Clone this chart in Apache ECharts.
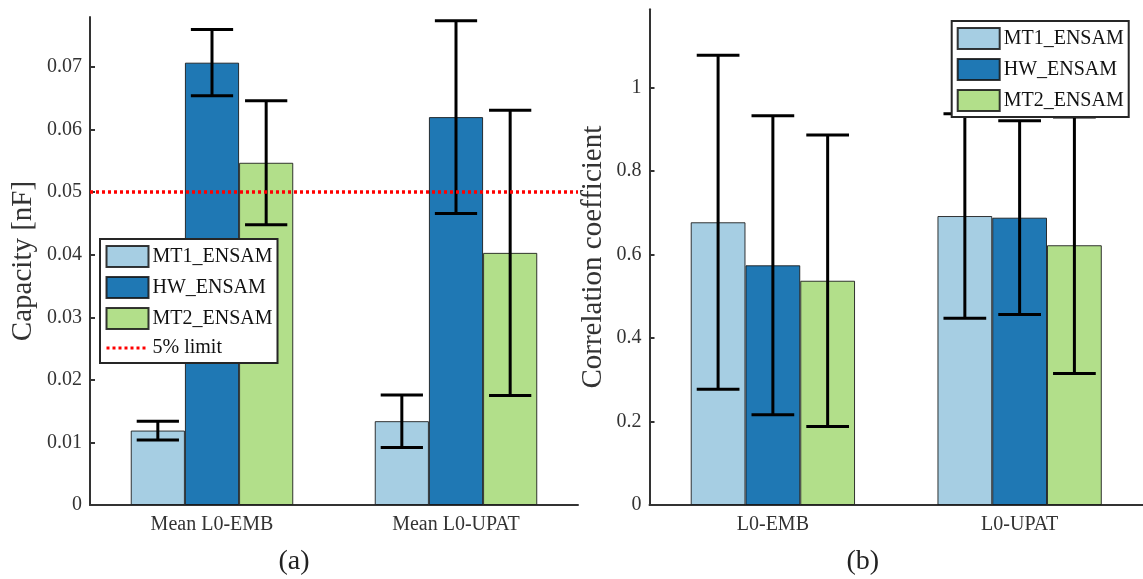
<!DOCTYPE html>
<html>
<head>
<meta charset="utf-8">
<script src="https://cdn.jsdelivr.net/npm/echarts@6/dist/echarts.min.js"></script>
<style>
  html, body { margin: 0; padding: 0; background: #fff; }
  #chart { width: 1143px; height: 579px; }
</style>
</head>
<body>
<div id="chart"></div>
<script>
// ---- data: (a) capacity, (b) correlation coefficient ----
const seriesNames = ['MT1_ENSAM', 'HW_ENSAM', 'MT2_ENSAM'];
const limitName = '5% limit';
const limitValue = 0.05;

const capCategories = ['Mean L0-EMB', 'Mean L0-UPAT'];
const capMT1 = [0.0119, 0.0134];
const capMT1Err = [0.0015, 0.0042];
const capHW = [0.0707, 0.0620];
const capHWErr = [0.0053, 0.0154];
const capMT2 = [0.0547, 0.0403];
const capMT2Err = [0.0099, 0.0228];
const capTicks = [0, 0.01, 0.02, 0.03, 0.04, 0.05, 0.06, 0.07];

const corrCategories = ['L0-EMB', 'L0-UPAT'];
const corrMT1 = [0.677, 0.692];
const corrMT1Err = [0.400, 0.245];
const corrHW = [0.574, 0.688];
const corrHWErr = [0.358, 0.232];
const corrMT2 = [0.537, 0.622];
const corrMT2Err = [0.349, 0.307];
const corrTicks = [0, 0.2, 0.4, 0.6, 0.8, 1];

// ---- styling ----
const colors = ['#a6cee3', '#1f78b4', '#b2df8a'];
const FONT = 'Liberation Serif';
const AXIS_COLOR = '#333333';
const BAR_FRACTION = 0.222;   // width of one bar as a share of the category band

const chart = echarts.init(document.getElementById('chart'), null, { renderer: 'canvas' });

function makeXAxis(gridIndex, cats) {
  return {
    type: 'category', gridIndex, data: cats,
    axisLine: { lineStyle: { color: AXIS_COLOR, width: 2 } },
    axisTick: { alignWithLabel: true, inside: true, length: 6, lineStyle: { color: AXIS_COLOR, width: 2 } },
    axisLabel: { fontFamily: FONT, fontSize: 20, color: '#333', margin: 10 },
    splitLine: { show: false }
  };
}

function makeYAxis(gridIndex, max, ticks, name, nameGap) {
  return {
    type: 'value', gridIndex, min: 0, max,
    name, nameLocation: 'middle', nameGap,
    nameTextStyle: { fontFamily: FONT, fontSize: 29, color: '#333' },
    axisLine: { show: true, lineStyle: { color: AXIS_COLOR, width: 2 } },
    axisTick: { show: true, inside: true, length: 5, customValues: ticks, lineStyle: { color: AXIS_COLOR, width: 2 } },
    axisLabel: { customValues: ticks, fontFamily: FONT, fontSize: 20, color: '#333', margin: 8 },
    splitLine: { show: false }
  };
}

function barSeries(idx, name, values) {
  return {
    type: 'bar', name, xAxisIndex: idx, yAxisIndex: idx,
    data: values, barWidth: (BAR_FRACTION * 100) + '%', barGap: '0%',
    itemStyle: { color: colors[seriesNames.indexOf(name)], borderColor: 'rgba(20,20,20,0.85)', borderWidth: 1 },
    emphasis: { disabled: true },
    z: 2
  };
}

function errorBarRender(params, api) {
  const cat = api.value(0), k = api.value(1), mean = api.value(2), err = api.value(3);
  const bw = api.size([1, 0])[0] * BAR_FRACTION;
  const x = api.coord([cat, mean])[0] + (k - 1) * bw;
  const yTop = api.coord([cat, mean + err])[1];
  const yBot = api.coord([cat, mean - err])[1];
  const half = bw * 0.39;
  const style = { stroke: '#000', lineWidth: 3, fill: null };
  return {
    type: 'group',
    children: [
      { type: 'line', shape: { x1: x, y1: yTop, x2: x, y2: yBot }, style },
      { type: 'line', shape: { x1: x - half, y1: yTop, x2: x + half, y2: yTop }, style },
      { type: 'line', shape: { x1: x - half, y1: yBot, x2: x + half, y2: yBot }, style }
    ]
  };
}

function errorSeries(idx, groups) {
  const data = [];
  groups.forEach(([means, errs], k) => {
    means.forEach((m, c) => data.push([c, k, m, errs[c]]));
  });
  return {
    type: 'custom', xAxisIndex: idx, yAxisIndex: idx,
    renderItem: errorBarRender, data,
    encode: { x: 0, y: 2 }, z: 3, silent: true
  };
}

function legendBox(left, top, withLimit) {
  const items = seriesNames.map(n => ({ name: n, icon: 'rect' }));
  if (withLimit) {
    items.push({
      name: limitName,
      itemStyle: { color: 'rgba(0,0,0,0)', borderWidth: 0, opacity: 0 },
      lineStyle: { color: '#ff0000', width: 3, type: [3, 3] }
    });
  }
  return {
    orient: 'vertical', left, top,
    data: items,
    itemWidth: 42, itemHeight: 21, itemGap: 8,
    padding: [6, 5, 5, 5],
    borderColor: '#262626', borderWidth: 2, backgroundColor: '#fff',
    textStyle: { fontFamily: FONT, fontSize: 20, color: '#111', padding: [0, 0, 0, -1] },
    selectedMode: false
  };
}

const option = {
  animation: false,
  backgroundColor: '#fff',
  grid: [
    { left: 90, top: 17, width: 488, height: 488 },
    { left: 649.5, top: 9.3, width: 495, height: 495.7 }
  ],
  xAxis: [makeXAxis(0, capCategories), makeXAxis(1, corrCategories)],
  yAxis: [
    makeYAxis(0, 0.078, capTicks, 'Capacity [nF]', 52),
    makeYAxis(1, 1.187, corrTicks, 'Correlation coefficient', 42)
  ],
  legend: [legendBox(100, 239, true), legendBox(951.7, 21, false)],
  series: [
    barSeries(0, seriesNames[0], capMT1),
    barSeries(0, seriesNames[1], capHW),
    barSeries(0, seriesNames[2], capMT2),
    {
      type: 'line', name: limitName, xAxisIndex: 0, yAxisIndex: 0, data: [],
      symbol: 'none',
      lineStyle: { color: '#ff0000', width: 3, type: [3, 3] },
      itemStyle: { color: '#ff0000' },
      markLine: {
        silent: true, symbol: ['none', 'none'],
        label: { show: false },
        lineStyle: { color: '#ff0000', width: 3.5, type: [3, 3] },
        emphasis: { disabled: true },
        data: [{ yAxis: limitValue }]
      },
      z: 4
    },
    errorSeries(0, [[capMT1, capMT1Err], [capHW, capHWErr], [capMT2, capMT2Err]]),
    barSeries(1, seriesNames[0], corrMT1),
    barSeries(1, seriesNames[1], corrHW),
    barSeries(1, seriesNames[2], corrMT2),
    errorSeries(1, [[corrMT1, corrMT1Err], [corrHW, corrHWErr], [corrMT2, corrMT2Err]])
  ],
  graphic: [
    { type: 'text', left: 294.5 - 16, top: 548, style: { text: '(a)', font: '28px "Liberation Serif"', fill: '#222' } },
    { type: 'text', left: 862.5 - 16, top: 548, style: { text: '(b)', font: '28px "Liberation Serif"', fill: '#222' } }
  ]
};

chart.setOption(option);
</script>
</body>
</html>
